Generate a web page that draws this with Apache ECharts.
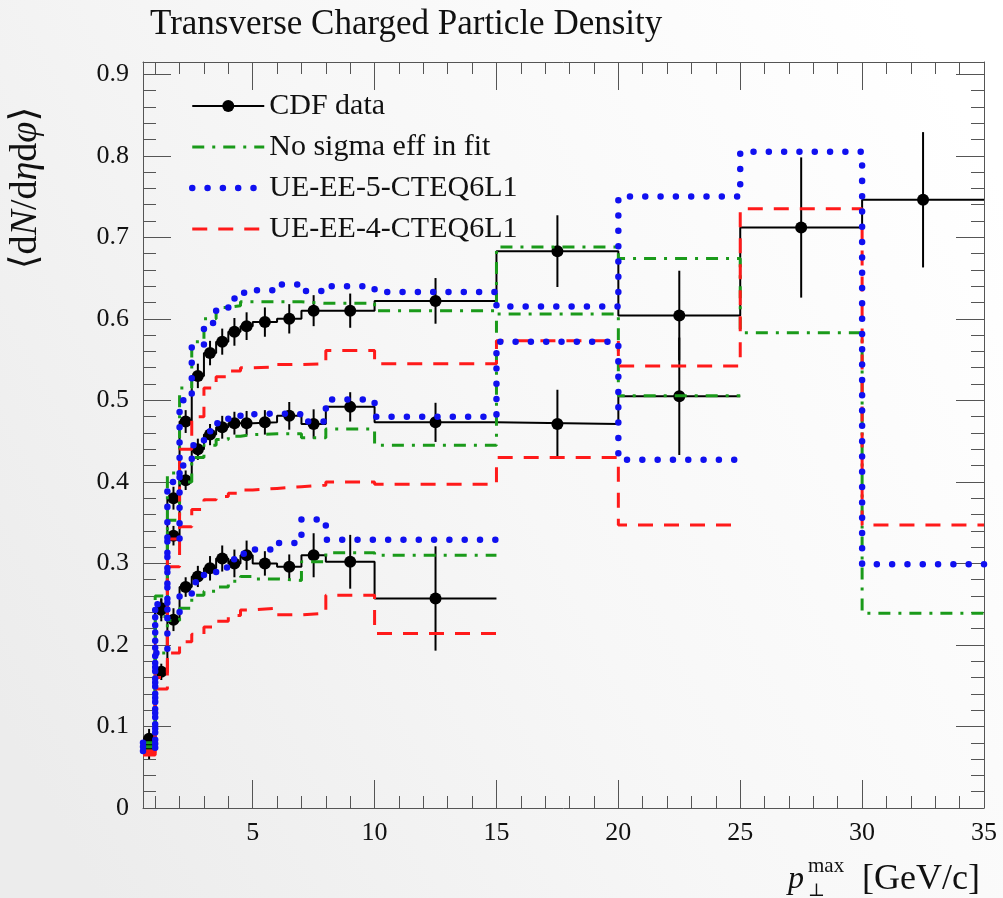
<!DOCTYPE html>
<html>
<head>
<meta charset="utf-8">
<script src="https://cdn.jsdelivr.net/npm/echarts@6/dist/echarts.min.js"></script>
<style>
  html, body { margin: 0; padding: 0; }
  #chart { width: 1003px; height: 898px; }
</style>
</head>
<body>
<div id="chart"></div>
<script>
// Bin edges in pT max [GeV/c]
const binEdges = [0.5, 1, 1.5, 2, 2.5, 3, 3.5, 4, 4.5, 5, 6, 7, 8, 10, 15, 20, 25, 30, 35];

// CDF data: three measurement sets (upper, middle, lower), value and error per bin
const dataUpper = [0.085, 0.245, 0.380, 0.474, 0.530, 0.558, 0.572, 0.584, 0.591, 0.596, 0.600, 0.610, 0.610, 0.622, 0.683, 0.604, 0.712, 0.746];
const errUpper  = [0.012, 0.012, 0.014, 0.014, 0.015, 0.015, 0.016, 0.017, 0.017, 0.018, 0.018, 0.019, 0.021, 0.028, 0.044, 0.055, 0.086, 0.083];
const dataMiddle = [0.078, 0.167, 0.334, 0.402, 0.440, 0.458, 0.467, 0.472, 0.472, 0.473, 0.481, 0.471, 0.492, 0.473, 0.471, 0.505];
const errMiddle  = [0.010, 0.010, 0.012, 0.012, 0.013, 0.013, 0.014, 0.014, 0.015, 0.015, 0.017, 0.018, 0.018, 0.024, 0.042, 0.072];
const dataLower = [0.072, 0.243, 0.231, 0.271, 0.284, 0.294, 0.306, 0.300, 0.310, 0.300, 0.296, 0.310, 0.302, 0.257];
const errLower  = [0.012, 0.014, 0.014, 0.012, 0.013, 0.015, 0.016, 0.017, 0.018, 0.015, 0.015, 0.027, 0.033, 0.064];

// "No sigma eff in fit" predictions
const noSigmaUpper  = [0.080, 0.260, 0.411, 0.515, 0.572, 0.600, 0.614, 0.616, 0.621, 0.621, 0.621, 0.619, 0.619, 0.610, 0.688, 0.674, 0.583, 0.239];
const noSigmaMiddle = [0.075, 0.190, 0.353, 0.400, 0.430, 0.445, 0.452, 0.456, 0.458, 0.459, 0.459, 0.454, 0.465, 0.445, 0.606, 0.5055];
const noSigmaLower  = [0.070, 0.235, 0.230, 0.245, 0.261, 0.266, 0.271, 0.278, 0.284, 0.281, 0.279, 0.302, 0.313, 0.310];

// UE-EE-5-CTEQ6L1 predictions
const ee5Upper  = [0.080, 0.250, 0.400, 0.500, 0.565, 0.595, 0.612, 0.625, 0.632, 0.635, 0.642, 0.634, 0.640, 0.633, 0.615, 0.750, 0.805, 0.299];
const ee5Middle = [0.075, 0.190, 0.330, 0.420, 0.445, 0.462, 0.472, 0.478, 0.483, 0.484, 0.483, 0.474, 0.501, 0.480, 0.572, 0.427];
const ee5Lower  = [0.070, 0.245, 0.240, 0.262, 0.277, 0.286, 0.295, 0.305, 0.312, 0.317, 0.325, 0.354, 0.329, 0.329];

// UE-EE-4-CTEQ6L1 predictions
const ee4Upper  = [0.070, 0.200, 0.330, 0.440, 0.480, 0.515, 0.529, 0.536, 0.540, 0.541, 0.544, 0.545, 0.561, 0.545, 0.573, 0.542, 0.735, 0.347];
const ee4Middle = [0.068, 0.160, 0.296, 0.345, 0.366, 0.378, 0.382, 0.386, 0.390, 0.392, 0.394, 0.396, 0.400, 0.397, 0.430, 0.347];
const ee4Lower  = [0.065, 0.146, 0.190, 0.204, 0.213, 0.222, 0.229, 0.236, 0.243, 0.245, 0.237, 0.239, 0.261, 0.214];

// Axis ticks and labels
const xMajorTicks = [5, 10, 15, 20, 25, 30, 35];
const xMinorTicks = [];
for (let k = 1; k < 35; k++) if (k % 5 !== 0) xMinorTicks.push(k);
const yMajorTicks = [0, 0.1, 0.2, 0.3, 0.4, 0.5, 0.6, 0.7, 0.8, 0.9];
const yMinorTicks = [];
for (let k = 1; k < 46; k++) if (k % 5 !== 0) yMinorTicks.push(k * 0.02);

const NAME_DATA = 'CDF data';
const NAME_NOSIGMA = 'No sigma eff in fit';
const NAME_EE5 = 'UE-EE-5-CTEQ6L1';
const NAME_EE4 = 'UE-EE-4-CTEQ6L1';

const SERIF = '"Liberation Serif", "DejaVu Serif", serif';
const INK = '#111';
const FRAME = '#555';

// histogram outline: one point at each left edge plus the final right edge
function stepPoints(values) {
  const pts = values.map((v, i) => [binEdges[i], v]);
  pts.push([binEdges[values.length], values[values.length - 1]]);
  return pts;
}
function centerPoints(values) {
  return values.map((v, i) => [(binEdges[i] + binEdges[i + 1]) / 2, v]);
}
function errorPoints(values, errs) {
  return values.map((v, i) => [(binEdges[i] + binEdges[i + 1]) / 2, v - errs[i], v + errs[i]]);
}

const series = [];

const dataSets = [[dataUpper, errUpper], [dataMiddle, errMiddle], [dataLower, errLower]];
dataSets.forEach(([vals]) => {
  series.push({
    name: NAME_DATA, type: 'line', step: 'end', data: stepPoints(vals),
    symbol: 'circle', symbolSize: 12, showSymbol: false,
    lineStyle: { color: '#000', width: 2 }, itemStyle: { color: '#000', opacity: 1 },
    z: 2, silent: true, animation: false
  });
});
dataSets.forEach(([vals, errs]) => {
  series.push({
    name: NAME_DATA, type: 'custom', data: errorPoints(vals, errs),
    renderItem: (params, api) => {
      const lo = api.coord([api.value(0), api.value(1)]);
      const hi = api.coord([api.value(0), api.value(2)]);
      return { type: 'line', shape: { x1: lo[0], y1: lo[1], x2: hi[0], y2: hi[1] },
               style: { stroke: '#000', lineWidth: 2 } };
    },
    encode: { x: 0, y: [1, 2] }, z: 2, silent: true, animation: false
  });
});
dataSets.forEach(([vals]) => {
  series.push({
    name: NAME_DATA, type: 'scatter', data: centerPoints(vals),
    symbol: 'circle', symbolSize: 12, itemStyle: { color: '#000', opacity: 1 },
    z: 2, silent: true, animation: false
  });
});

const models = [
  { name: NAME_NOSIGMA, sets: [noSigmaUpper, noSigmaMiddle, noSigmaLower],
    line: { color: '#1a9a1a', width: 3, type: [12, 8, 3, 8], cap: 'butt' } },
  { name: NAME_EE4, sets: [ee4Upper, ee4Middle, ee4Lower],
    line: { color: '#ff1a1a', width: 3, type: [15, 11], cap: 'butt' } },
  { name: NAME_EE5, sets: [ee5Upper, ee5Middle, ee5Lower],
    line: { color: '#1010f0', width: 6.5, type: [0.01, 15.3], cap: 'round' } }
];
models.forEach((m, mi) => {
  m.sets.forEach(vals => {
    series.push({
      name: m.name, type: 'line', step: 'end', data: stepPoints(vals),
      symbol: 'none', showSymbol: false,
      lineStyle: m.line, itemStyle: { color: m.line.color },
      z: 3 + mi, silent: true, animation: false
    });
  });
});

const tickStyle = { color: FRAME, width: 1 };
function xAxisDef(position, ticks, len, withLine, withLabels) {
  return {
    type: 'value', position, min: 0.5, max: 35, offset: 0,
    axisLine: { show: withLine, onZero: false, lineStyle: { color: FRAME, width: 1 } },
    axisTick: { show: true, inside: true, length: len, customValues: ticks, lineStyle: tickStyle },
    axisLabel: withLabels ? {
      show: true, customValues: xMajorTicks, margin: 12,
      fontFamily: SERIF, fontSize: 26, color: INK
    } : { show: false },
    splitLine: { show: false }
  };
}
function yAxisDef(position, ticks, len, withLine, withLabels) {
  return {
    type: 'value', position, min: 0, max: 0.915, offset: 0,
    axisLine: { show: withLine, onZero: false, lineStyle: { color: FRAME, width: 1 } },
    axisTick: { show: true, inside: true, length: len, customValues: ticks, lineStyle: tickStyle },
    axisLabel: withLabels ? {
      show: true, customValues: yMajorTicks, margin: 14,
      fontFamily: SERIF, fontSize: 26, color: INK,
      formatter: v => (Math.abs(v) < 1e-9 ? '0' : v.toFixed(1))
    } : { show: false },
    splitLine: { show: false }
  };
}

const chart = echarts.init(document.getElementById('chart'), null, { renderer: 'canvas' });
chart.setOption({
  animation: false,
  backgroundColor: {
    type: 'linear', x: 0, y: 0.8, x2: 1, y2: 0.2,
    colorStops: [
      { offset: 0, color: '#ececec' },
      { offset: 0.5, color: '#f7f7f7' },
      { offset: 1, color: '#ffffff' }
    ]
  },
  title: {
    text: 'Transverse Charged Particle Density',
    left: 145, top: 2,
    textStyle: { fontFamily: SERIF, fontSize: 35, fontWeight: 'normal', color: INK }
  },
  grid: { left: 143, right: 19, top: 62, bottom: 90, containLabel: false },
  xAxis: [
    xAxisDef('bottom', xMajorTicks, 28, true, true),
    xAxisDef('bottom', xMinorTicks, 12, false, false),
    xAxisDef('top', xMajorTicks, 28, true, false),
    xAxisDef('top', xMinorTicks, 12, false, false)
  ],
  yAxis: [
    yAxisDef('left', yMajorTicks, 28, true, true),
    yAxisDef('left', yMinorTicks, 13, false, false),
    yAxisDef('right', yMajorTicks, 28, true, false),
    yAxisDef('right', yMinorTicks, 13, false, false)
  ],
  legend: {
    orient: 'vertical', left: 184, top: 86,
    itemWidth: 72, itemHeight: 15, itemGap: 11,
    textStyle: { fontFamily: SERIF, fontSize: 30, color: INK, lineHeight: 30 },
    lineStyle: { width: 'inherit', type: 'inherit', cap: 'inherit' },
    data: [
      { name: NAME_DATA },
      { name: NAME_NOSIGMA, itemStyle: { opacity: 0 } },
      { name: NAME_EE5, itemStyle: { opacity: 0 } },
      { name: NAME_EE4, itemStyle: { opacity: 0 } }
    ]
  },
  graphic: [
    {
      type: 'text', x: 26, y: 188, rotation: Math.PI / 2,
      style: {
        text: '{r|⟨d}{i|N}{r|/d}{i|η}{r|d}{i|φ}{r|⟩}',
        align: 'center', verticalAlign: 'middle',
        rich: {
          r: { fontFamily: SERIF, fontSize: 38, fill: INK },
          i: { fontFamily: SERIF, fontSize: 38, fontStyle: 'italic', fill: INK }
        }
      }
    },
    { type: 'text', x: 788, y: 880, style: { text: 'p', fontFamily: SERIF, fontSize: 32, fontStyle: 'italic', fill: INK, verticalAlign: 'middle' } },
    { type: 'text', x: 808, y: 866, style: { text: 'max', fontFamily: SERIF, fontSize: 21, fill: INK, verticalAlign: 'middle' } },
    { type: 'text', x: 808, y: 891, style: { text: '⊥', fontFamily: SERIF, fontSize: 18, fill: INK, verticalAlign: 'middle' } },
    { type: 'text', x: 980, y: 880, style: { text: '[GeV/c]', fontFamily: SERIF, fontSize: 36, fill: INK, align: 'right', verticalAlign: 'middle' } }
  ],
  series
});
</script>
</body>
</html>
